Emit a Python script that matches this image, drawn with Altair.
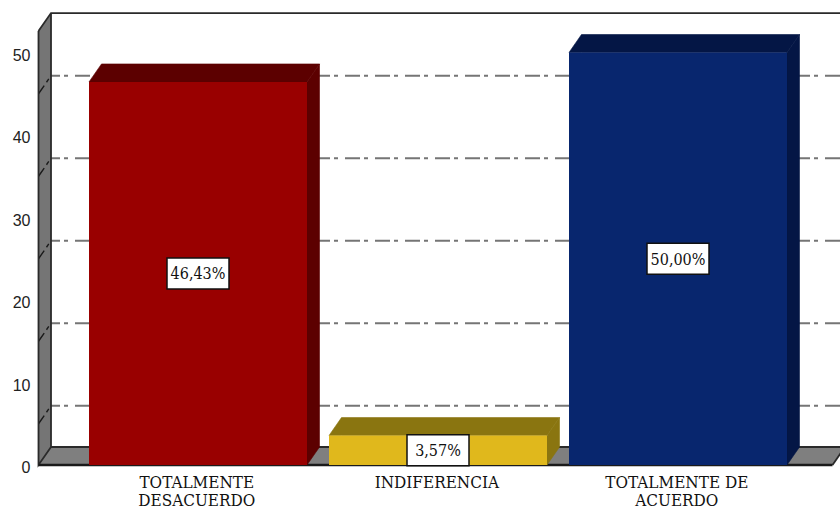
import altair as alt
import pandas as pd

# Survey result per answer category
categories = ["TOTALMENTE\nDESACUERDO", "INDIFERENCIA", "TOTALMENTE DE\nACUERDO"]
values = [46.43, 3.57, 50.00]
value_labels = ["46,43%", "3,57%", "50,00%"]
front_colors = ["#990000", "#e0b81c", "#08266e"]
shade_colors = ["#5c0000", "#8a7510", "#041645"]
y_ticks = [0, 10, 20, 30, 40, 50]
grid_levels = [5, 15, 25, 35, 45]

# Drawing geometry, in axis units (x: one unit per category, y: percent)
PX_X = 240.0
PX_Y = 8.25
X_MIN = -0.825
X_MAX = 2.675
BAR_W = 218 / PX_X
DEPTH_X = 12.5 / PX_X
DEPTH_Y = 18 / PX_Y
WALL_X = X_MIN + 51 / PX_X
FRONT_X = WALL_X - DEPTH_X
RIGHT_X = X_MIN + 845 / PX_X
WALL_TOP = 52.6
BOX_W = 62 / PX_X
BOX_H = 31 / PX_Y

x_scale = alt.Scale(domain=[X_MIN, X_MAX], nice=False, zero=False)
y_scale = alt.Scale(domain=[-46 / PX_Y, 465 / PX_Y], nice=False, zero=False)
X = alt.X("x:Q", scale=x_scale, axis=None)
Y = alt.Y("y:Q", scale=y_scale, axis=None)


def quad_layer(rows, color, stroke=None):
    """Filled shape given as (x, bottom, top) rows."""
    df = pd.DataFrame(rows, columns=["x", "y", "y2"])
    kwargs = {"stroke": stroke, "strokeWidth": 0.6} if stroke else {}
    return alt.Chart(df).mark_area(color=color, clip=True, **kwargs).encode(x=X, y=Y, y2="y2:Q")


def line_layer(points, color, width, dash=None, dash_offset=None):
    df = pd.DataFrame(points, columns=["x", "y", "seg"])
    kwargs = {}
    if dash:
        kwargs["strokeDash"] = dash
    if dash_offset:
        kwargs["strokeDashOffset"] = dash_offset
    return (
        alt.Chart(df)
        .mark_line(color=color, strokeWidth=width, clip=True, **kwargs)
        .encode(x=X, y=Y, detail="seg:N")
    )


layers = []

# Left wall
layers.append(
    quad_layer(
        [(FRONT_X, 0, WALL_TOP), (WALL_X, DEPTH_Y, WALL_TOP + DEPTH_Y)],
        "#757575",
    )
)

# Floor
layers.append(
    quad_layer(
        [
            (FRONT_X, 0, 0),
            (WALL_X, 0, DEPTH_Y),
            (RIGHT_X - DEPTH_X, 0, DEPTH_Y),
            (RIGHT_X, DEPTH_Y, DEPTH_Y),
        ],
        "#7f7f7f",
    )
)

# Back-wall grid lines and their slanted continuation on the left wall
layers.append(
    line_layer(
        [p for i, g in enumerate(grid_levels) for p in [(WALL_X, g + DEPTH_Y, i), (X_MAX, g + DEPTH_Y, i)]],
        "#757575",
        2,
        [15, 4, 4, 7],
        6,
    )
)
layers.append(
    line_layer(
        [p for i, g in enumerate(grid_levels) for p in [(FRONT_X, g, i), (WALL_X, g + DEPTH_Y, i)]],
        "#1a1a1a",
        1.4,
        [10, 4, 4],
    )
)

# Frame edges
layers.append(
    line_layer(
        [
            (FRONT_X, WALL_TOP, "a"), (WALL_X, WALL_TOP + DEPTH_Y, "a"), (X_MAX, WALL_TOP + DEPTH_Y, "a"),
            (WALL_X, WALL_TOP + DEPTH_Y, "b"), (WALL_X, DEPTH_Y, "b"), (X_MAX, DEPTH_Y, "b"),
            (FRONT_X, WALL_TOP, "c"), (FRONT_X, 0, "c"), (WALL_X, DEPTH_Y, "c"),
            (RIGHT_X - DEPTH_X, 0, "e"), (RIGHT_X, DEPTH_Y, "e"),
        ],
        "#2a2a2a",
        1.8,
    )
)
layers.append(
    line_layer([(FRONT_X, 0, "d"), (RIGHT_X - DEPTH_X, 0, "d")], "#1a1a1a", 2.6)
)

# Bars: shaded top and side faces, then the front face
for i, v in enumerate(values):
    left = i - BAR_W / 2
    right = i + BAR_W / 2
    layers.append(
        quad_layer(
            [
                (left, v, v),
                (left + DEPTH_X, v, v + DEPTH_Y),
                (right, v, v + DEPTH_Y),
                (right + DEPTH_X, v + DEPTH_Y, v + DEPTH_Y),
            ],
            shade_colors[i],
            stroke=shade_colors[i],
        )
    )
    layers.append(
        quad_layer(
            [(right, 0, v), (right + DEPTH_X, DEPTH_Y, v + DEPTH_Y)],
            shade_colors[i],
            stroke=shade_colors[i],
        )
    )
    layers.append(
        quad_layer([(left, 0, v), (right, 0, v)], front_colors[i])
    )

# Value labels in white boxes, centred on each bar's front face
label_df = pd.DataFrame(
    {
        "x": [i - BOX_W / 2 for i in range(len(values))],
        "x2": [i + BOX_W / 2 for i in range(len(values))],
        "y": [v / 2 - BOX_H / 2 for v in values],
        "y2": [v / 2 + BOX_H / 2 for v in values],
        "cx": list(range(len(values))),
        "cy": [v / 2 for v in values],
        "label": value_labels,
    }
)
layers.append(
    alt.Chart(label_df)
    .mark_rect(fill="white", stroke="#111111", strokeWidth=1.5)
    .encode(x=X, x2="x2:Q", y=Y, y2="y2:Q")
)
layers.append(
    alt.Chart(label_df)
    .mark_text(font="DejaVu Serif Condensed", fontSize=16, color="#111111", baseline="middle", align="center", dy=1)
    .encode(
        x=alt.X("cx:Q", scale=x_scale, axis=None),
        y=alt.Y("cy:Q", scale=y_scale, axis=None),
        text="label:N",
    )
)

# Category labels under the floor
cat_df = pd.DataFrame(
    {
        "x": [i - 0.005 for i in range(len(categories))],
        "y": [-1.2] * len(categories),
        "label": categories,
    }
)
layers.append(
    alt.Chart(cat_df)
    .mark_text(
        font="DejaVu Serif Condensed",
        fontSize=17,
        color="#111111",
        baseline="top",
        align="center",
        lineBreak="\n",
        lineHeight=18,
    )
    .encode(x=X, y=Y, text="label:N")
)

# Value axis labels to the left of the wall
tick_df = pd.DataFrame({"y": y_ticks, "x": [FRONT_X] * len(y_ticks)})
layers.append(
    alt.Chart(tick_df)
    .mark_text(
        font="Liberation Sans",
        fontSize=16,
        color="#222222",
        align="right",
        baseline="middle",
        dx=-8,
        dy=3,
    )
    .encode(x=X, y=Y, text=alt.Text("y:Q", format="d"))
)

chart = (
    alt.layer(*layers)
    .properties(width=840, height=511, padding=0, autosize=alt.AutoSizeParams(type="none"), background="white")
    .configure_view(stroke=None)
)

chart.save("out.html", embed_options={"renderer": "svg", "actions": False})
